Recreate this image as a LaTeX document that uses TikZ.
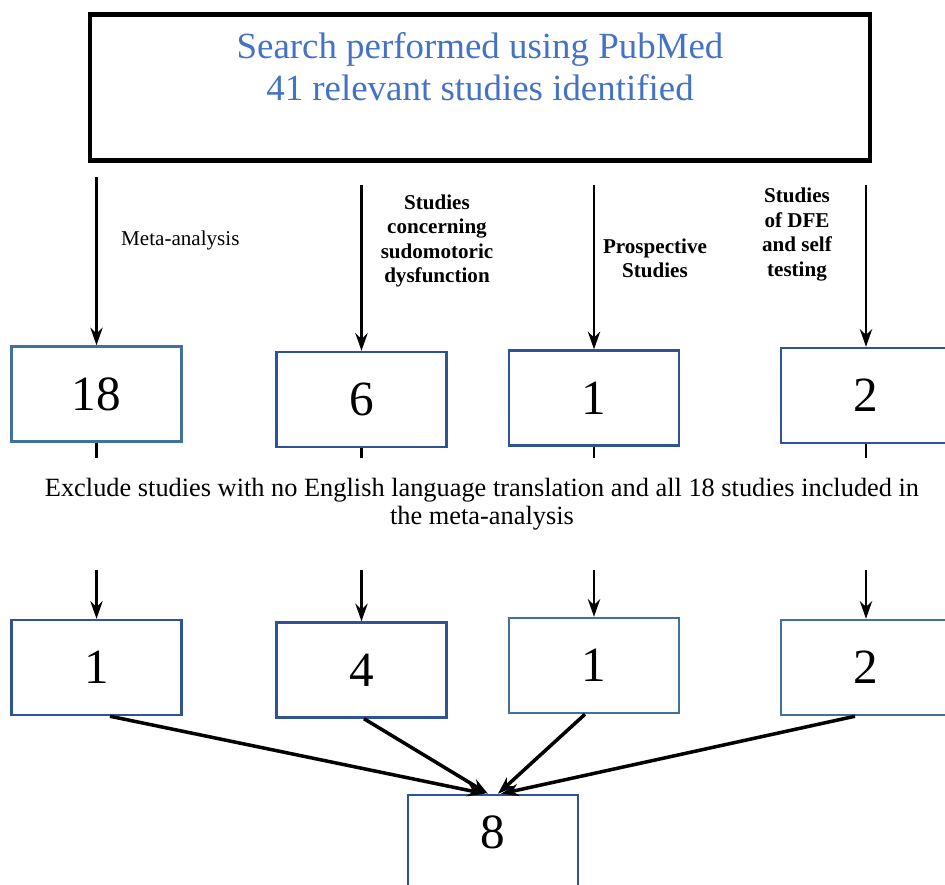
\documentclass[tikz,border=0pt]{standalone}
\usepackage{fontspec}
\setmainfont{Liberation Serif}
\usetikzlibrary{arrows.meta}
\definecolor{pubblue}{RGB}{68,114,196}
\definecolor{boxdark}{RGB}{47,84,150}
\definecolor{boxlight}{RGB}{65,113,156}

\begin{document}
\begin{tikzpicture}[
    count/.style={rectangle, draw=boxdark, line width=1.4pt, minimum width=3.4cm, minimum height=1.9cm, font=\fontsize{28}{32}\selectfont},
    lightcount/.style={count, draw=boxlight},
    crit/.style={align=center, font=\fontsize{12}{13.9}\selectfont\bfseries},
    arrow/.style={->, >={Stealth[length=10pt,width=7pt]}, line width=1.3pt},
    merge/.style={arrow, line width=2pt}
]
    \useasboundingbox (0,0) rectangle (18.9,-17.7);

    \node[draw, line width=2.8pt, minimum width=15.6cm, anchor=north, align=center, text=pubblue, font=\fontsize{21}{23.8}\selectfont, inner ysep=0.36cm, text depth=0.84cm] (search) at (9.6,-0.24) {Search performed using PubMed\\41 relevant studies identified};

    \node[anchor=west, font=\fontsize{12}{13.9}\selectfont] (meta) at (2.3,-4.8) {Meta-analysis};
    \node[crit] (sudo) at (8.74,-4.82) {Studies\\concerning\\sudomotoric\\dysfunction};
    \node[crit] (prosp) at (13.1,-5.17) {Prospective\\Studies};
    \node[crit] (dfe) at (15.94,-4.69) {Studies\\of DFE\\and self\\testing};

    \node[lightcount] (a1) at (1.93,-7.88) {18};
    \node[count] (a2) at (7.23,-7.99) {6};
    \node[count] (a3) at (11.88,-7.96) {1};
    \node[count] (a4) at (17.32,-7.91) {2};

    \node[count] (b1) at (1.93,-13.35) {1};
    \node[count] (b2) at (7.23,-13.4) {4};
    \node[lightcount] (b3) at (11.88,-13.31) {1};
    \node[lightcount] (b4) at (17.32,-13.35) {2};

    \node[count, text depth=0.4cm] (total) at (9.86,-16.85) {8};

    \draw[arrow, shorten <=0.28cm] (search.south -| a1.north) -- (a1.north);
    \draw[arrow, shorten <=0.44cm] (search.south -| a2.north) -- (a2.north);
    \draw[arrow, shorten <=0.44cm] (search.south -| a3.north) -- (a3.north);
    \draw[arrow, shorten <=0.44cm] (search.south -| a4.north) -- (a4.north);

    \draw[arrow] (a1) -- (b1);
    \draw[arrow] (a2) -- (b2);
    \draw[arrow] (a3) -- (b3);
    \draw[arrow] (a4) -- (b4);

    \node[fill=white, anchor=north, align=center, inner xsep=0.3cm, inner ysep=0.4cm, text depth=0.5cm, font=\fontsize{15}{15.9}\selectfont] (exclude) at (9.64,-9.16) {Exclude studies with no English language translation and all 18 studies included in\\the meta-analysis};

    \draw[merge] ([xshift=0.27cm]b1.south) -- ([xshift=-0.16cm]total.north);
    \draw[merge] ([xshift=0.05cm]b2.south) -- ([xshift=-0.1cm]total.north);
    \draw[merge] ([xshift=-0.18cm]b3.south) -- ([xshift=0.1cm]total.north);
    \draw[merge] ([xshift=-0.22cm]b4.south) -- ([xshift=0.16cm]total.north);
\end{tikzpicture}
\end{document}
